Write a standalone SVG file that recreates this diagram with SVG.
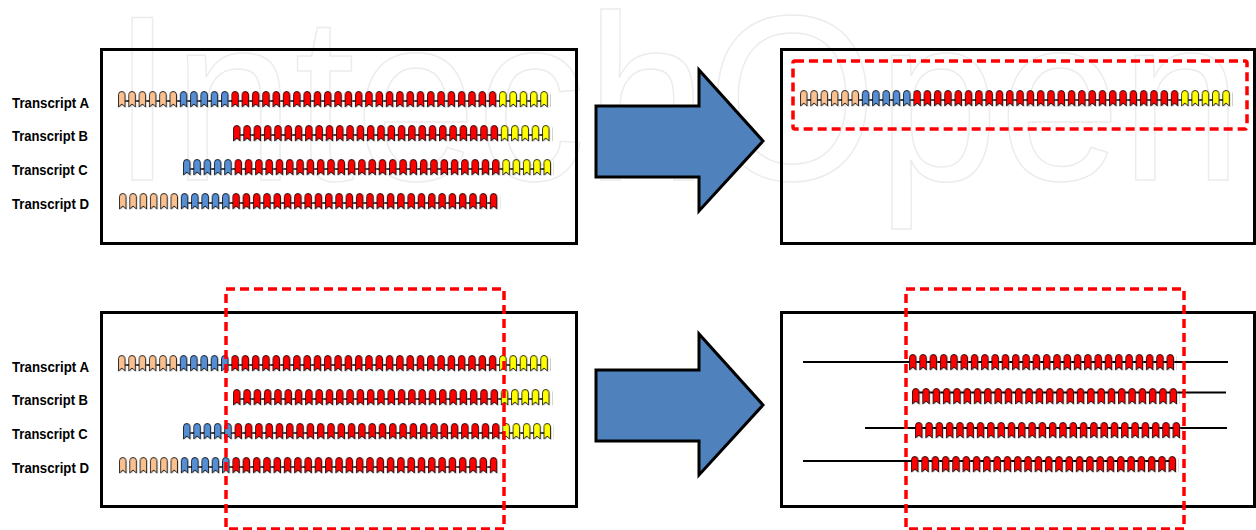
<svg xmlns="http://www.w3.org/2000/svg" width="1256" height="530" viewBox="0 0 1256 530">
<style>
.lbl{font-family:"Liberation Sans",Arial,sans-serif;font-weight:bold;font-size:15.5px;fill:#000}
.box{fill:none;stroke:#000;stroke-width:3}
.dash{fill:none;stroke:#ff0000;stroke-width:3.5;stroke-dasharray:9 5}
.arrow{fill:#4f81bd;stroke:#000;stroke-width:3;stroke-linejoin:miter}
.bb{stroke:#000;stroke-width:1.6;fill:none}
.bl2{stroke:#000;stroke-width:2;fill:none}
.wm{font-family:"Liberation Sans",Arial,sans-serif;font-size:235px;fill:none;stroke:#ececec;stroke-width:1.5}
</style>
<defs>
<path id="g" d="M0.5,16 V3.75 A3.25,3.25 0 0 1 7,3.75 V16 L3.75,13 Z"/>
<pattern id="pe" width="10.3" height="18" patternUnits="userSpaceOnUse"><use href="#g" x="1" y="1" fill="#9a9a9a" opacity="0.6"/><use href="#g" fill="#fac090" stroke="#000" stroke-width="0.8"/></pattern>
<pattern id="bl" width="10.3" height="18" patternUnits="userSpaceOnUse"><use href="#g" x="1" y="1" fill="#9a9a9a" opacity="0.6"/><use href="#g" fill="#558ed5" stroke="#000" stroke-width="0.8"/></pattern>
<pattern id="rd" width="10.3" height="18" patternUnits="userSpaceOnUse"><use href="#g" x="1" y="1" fill="#9a9a9a" opacity="0.6"/><use href="#g" fill="#ff0000" stroke="#000" stroke-width="0.8"/></pattern>
<pattern id="ye" width="10.3" height="18" patternUnits="userSpaceOnUse"><use href="#g" x="1" y="1" fill="#9a9a9a" opacity="0.6"/><use href="#g" fill="#ffff00" stroke="#000" stroke-width="0.8"/></pattern>
</defs>
<rect width="1256" height="530" fill="#fff"/>
<text class="wm" x="112" y="180" textLength="1130" lengthAdjust="spacingAndGlyphs">IntechOpen</text>

<g id="panel-top-left">
<rect class="box" x="101.5" y="49.5" width="475" height="194"/>
<text class="lbl" x="12" y="107.5" textLength="77" lengthAdjust="spacingAndGlyphs">Transcript A</text>
<text class="lbl" x="12" y="141" textLength="76" lengthAdjust="spacingAndGlyphs">Transcript B</text>
<text class="lbl" x="12" y="175" textLength="75.5" lengthAdjust="spacingAndGlyphs">Transcript C</text>
<text class="lbl" x="12" y="209" textLength="77" lengthAdjust="spacingAndGlyphs">Transcript D</text>
<g transform="translate(118,91)"><path class="bb" d="M3.5,10H425.8"/><rect width="61.8" height="18" fill="url(#pe)"/><rect x="61.8" width="51.5" height="18" fill="url(#bl)"/><rect x="113.3" width="267.8" height="18" fill="url(#rd)"/><rect x="381.1" width="51.5" height="18" fill="url(#ye)"/></g>
<g transform="translate(233,125)"><path class="bb" d="M3.5,10H312.5"/><rect width="267.8" height="18" fill="url(#rd)"/><rect x="267.8" width="51.5" height="18" fill="url(#ye)"/></g>
<g transform="translate(183,159)"><path class="bb" d="M3.5,10H364"/><rect width="51.5" height="18" fill="url(#bl)"/><rect x="51.5" width="267.8" height="18" fill="url(#rd)"/><rect x="319.3" width="51.5" height="18" fill="url(#ye)"/></g>
<g transform="translate(119,193)"><path class="bb" d="M65,10H374.3"/><rect width="61.8" height="18" fill="url(#pe)"/><rect x="61.8" width="51.5" height="18" fill="url(#bl)"/><rect x="113.3" width="267.8" height="18" fill="url(#rd)"/></g>
</g>

<g id="panel-top-right">
<rect class="box" x="781.5" y="49.5" width="473" height="194"/>
<g transform="translate(800,90)"><path class="bb" d="M3.5,10H425.8"/><rect width="61.8" height="18" fill="url(#pe)"/><rect x="61.8" width="51.5" height="18" fill="url(#bl)"/><rect x="113.3" width="267.8" height="18" fill="url(#rd)"/><rect x="381.1" width="51.5" height="18" fill="url(#ye)"/></g>
<rect class="dash" x="793" y="61" width="454" height="68" rx="2"/>
</g>

<g id="panel-bottom-left">
<rect class="box" x="101.5" y="312.5" width="475" height="194"/>
<text class="lbl" x="12" y="371.5" textLength="77" lengthAdjust="spacingAndGlyphs">Transcript A</text>
<text class="lbl" x="12" y="405" textLength="76" lengthAdjust="spacingAndGlyphs">Transcript B</text>
<text class="lbl" x="12" y="439" textLength="75.5" lengthAdjust="spacingAndGlyphs">Transcript C</text>
<text class="lbl" x="12" y="473" textLength="77" lengthAdjust="spacingAndGlyphs">Transcript D</text>
<g transform="translate(118,355)"><path class="bb" d="M3.5,10H425.8"/><rect width="61.8" height="18" fill="url(#pe)"/><rect x="61.8" width="51.5" height="18" fill="url(#bl)"/><rect x="113.3" width="267.8" height="18" fill="url(#rd)"/><rect x="381.1" width="51.5" height="18" fill="url(#ye)"/></g>
<g transform="translate(233,389)"><path class="bb" d="M3.5,10H312.5"/><rect width="267.8" height="18" fill="url(#rd)"/><rect x="267.8" width="51.5" height="18" fill="url(#ye)"/></g>
<g transform="translate(183,423)"><path class="bb" d="M3.5,10H364"/><rect width="51.5" height="18" fill="url(#bl)"/><rect x="51.5" width="267.8" height="18" fill="url(#rd)"/><rect x="319.3" width="51.5" height="18" fill="url(#ye)"/></g>
<g transform="translate(119,457)"><path class="bb" d="M65,10H374.3"/><rect width="61.8" height="18" fill="url(#pe)"/><rect x="61.8" width="51.5" height="18" fill="url(#bl)"/><rect x="113.3" width="267.8" height="18" fill="url(#rd)"/></g>
<rect class="dash" x="226" y="289" width="278" height="240"/>
</g>

<g id="panel-bottom-right">
<rect class="box" x="781.5" y="312.5" width="473" height="194"/>
<path class="bl2" d="M803,362H1228"/>
<path class="bl2" d="M912,392.5H1226"/>
<path class="bl2" d="M865,428H1227"/>
<path class="bl2" d="M803,461H1170"/>
<g transform="translate(909,354)"><rect width="267.8" height="18" fill="url(#rd)"/></g>
<g transform="translate(912,388)"><rect width="267.8" height="18" fill="url(#rd)"/></g>
<g transform="translate(915,422)"><rect width="267.8" height="18" fill="url(#rd)"/></g>
<g transform="translate(911,456)"><rect width="267.8" height="18" fill="url(#rd)"/></g>
<rect class="dash" x="906" y="289" width="278" height="240"/>
</g>

<g id="connectors">
<polygon class="arrow" points="596,106 699,106 699,70 763,141 699,211 699,177 596,177"/>
<polygon class="arrow" points="596,370 699,370 699,334 763,405 699,475 699,441 596,441"/>
</g>
</svg>
